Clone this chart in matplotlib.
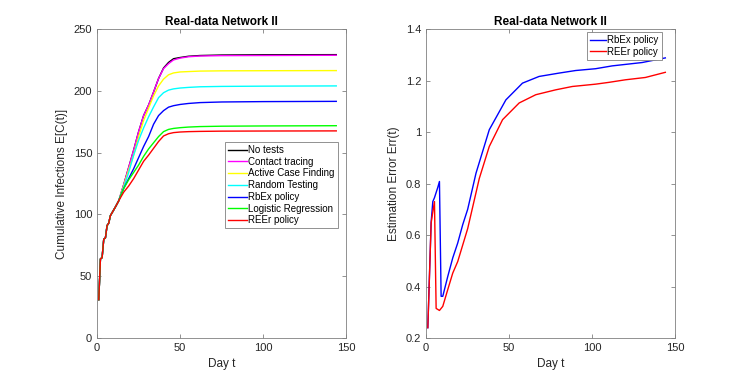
import matplotlib
matplotlib.use("Agg")
import matplotlib.pyplot as plt
from matplotlib.ticker import FormatStrFormatter

plt.rcParams['font.family'] = ['Liberation Sans', 'DejaVu Sans']

# left panel: cumulative infections
days_left = [1, 2, 3, 4, 5, 6, 7, 8, 11, 13, 16, 19, 22, 25, 28, 31, 34, 37,
             40, 43, 46, 50, 55, 62, 75, 100, 144]
early = [31, 64, 65, 80, 81, 91, 93, 99, 106, 111]

no_tests = early + [124, 138, 152, 167, 180, 188.5, 199, 210, 218.5, 223, 226,
                    227, 228, 228.6, 229, 229.2, 229.3]
contact_tracing = early + [124, 138, 152, 167, 180, 188.5, 199, 210, 218, 222,
                           225, 226.5, 227.6, 228.2, 228.5, 228.6, 228.8]
active_case = early + [123, 136, 148, 163, 176, 186, 196, 204, 209.5, 213,
                       214.5, 215.3, 215.6, 216, 216.2, 216.3, 216.4]
random_testing = early + [122, 134, 148, 160, 170, 179, 187, 194.5, 198.5,
                          200.6, 201.6, 202.3, 202.8, 203.3, 203.6, 203.8, 204]
rbex_left = early + [121, 129, 137, 146, 155, 163, 173, 180, 184, 186.8, 188,
                     189, 189.8, 190.5, 191, 191.3, 191.5]
logistic = early + [121, 128, 134, 140, 147, 153, 158, 163, 167, 168.8, 169.6,
                    170.2, 170.7, 171.1, 171.4, 171.6, 171.8]
reer_left = early + [118, 123, 129, 136, 143, 148, 153.5, 159, 163.5, 165.3,
                     166.2, 166.7, 167, 167.2, 167.4, 167.5, 167.6]

left_series = [
    ("No tests", no_tests, "#000000"),
    ("Contact tracing", contact_tracing, "#ff00ff"),
    ("Active Case Finding", active_case, "#ffff00"),
    ("Random Testing", random_testing, "#00ffff"),
    ("RbEx policy", rbex_left, "#0000ff"),
    ("Logistic Regression", logistic, "#00ff00"),
    ("REEr policy", reer_left, "#ff0000"),
]

# right panel: estimation error
days_rbex = [1, 3, 4, 5, 7, 8, 9, 10, 13, 16, 19, 22, 25, 30, 38, 48, 58, 68,
             80, 90, 102, 112, 130, 144]
err_rbex = [0.24, 0.65, 0.73, 0.745, 0.785, 0.808, 0.362, 0.362, 0.439, 0.511,
            0.569, 0.64, 0.70, 0.84, 1.009, 1.125, 1.19, 1.216, 1.229, 1.239,
            1.246, 1.257, 1.27, 1.288]
days_reer = [1, 3, 4, 5, 6, 8, 10, 13, 16, 19, 25, 32, 38, 46, 56, 66, 78, 88,
             102, 110, 120, 132, 144]
err_reer = [0.24, 0.647, 0.69, 0.73, 0.315, 0.307, 0.323, 0.388, 0.452, 0.497,
            0.625, 0.82, 0.944, 1.048, 1.113, 1.145, 1.164, 1.177, 1.186,
            1.193, 1.203, 1.212, 1.232]

TITLE = "Real-data Network II"
GRAY = "#808080"


def style_axes(ax):
    for sp in ax.spines.values():
        sp.set_color(GRAY)
        sp.set_linewidth(0.6)
    ax.tick_params(direction="in", top=True, right=True, length=3,
                   width=0.6, color=GRAY, labelsize=8, labelcolor="#262626")
    ax.set_title(TITLE, fontsize=8.5, fontweight="bold", pad=3)
    ax.set_xlabel("Day t", fontsize=8.5, color="#262626")


def style_legend(leg):
    leg.get_frame().set_edgecolor(GRAY)
    leg.get_frame().set_linewidth(0.6)


fig = plt.figure(figsize=(7.47, 3.80), dpi=100)
ax1 = fig.add_axes([0.130, 0.1105, 0.3335, 0.813])
ax2 = fig.add_axes([0.5705, 0.1105, 0.3335, 0.813])

for name, vals, col in left_series:
    ax1.plot(days_left, vals, color=col, lw=1.0, label=name)
ax1.set_xlim(0, 150)
ax1.set_ylim(0, 250)
ax1.set_xticks([0, 50, 100, 150])
ax1.set_yticks([0, 50, 100, 150, 200, 250])
ax1.set_ylabel("Cumulative Infections E[C(t)]", fontsize=8.5, color="#262626")
style_axes(ax1)
leg1 = ax1.legend(loc="lower right", bbox_to_anchor=(0.965, 0.355),
                  fontsize=7, handlelength=1.9, handletextpad=0.15,
                  labelspacing=0.18, borderpad=0.3, borderaxespad=0,
                  fancybox=False, framealpha=1)
style_legend(leg1)

ax2.plot(days_rbex, err_rbex, color="#0000ff", lw=1.0, label="RbEx policy")
ax2.plot(days_reer, err_reer, color="#ff0000", lw=1.0, label="REEr policy")
ax2.set_xlim(0, 150)
ax2.set_ylim(0.2, 1.4)
ax2.set_xticks([0, 50, 100, 150])
ax2.set_yticks([0.2, 0.4, 0.6, 0.8, 1.0, 1.2, 1.4])
ax2.yaxis.set_major_formatter(FormatStrFormatter("%g"))
ax2.set_ylabel("Estimation Error Err(t)", fontsize=8.5, color="#262626")
style_axes(ax2)
leg2 = ax2.legend(loc="upper right", bbox_to_anchor=(0.945, 0.99),
                  fontsize=7, handlelength=1.6, handletextpad=0.15,
                  labelspacing=0.18, borderpad=0.3, borderaxespad=0,
                  fancybox=False, framealpha=1)
style_legend(leg2)

fig.savefig("out.png", dpi=100)
